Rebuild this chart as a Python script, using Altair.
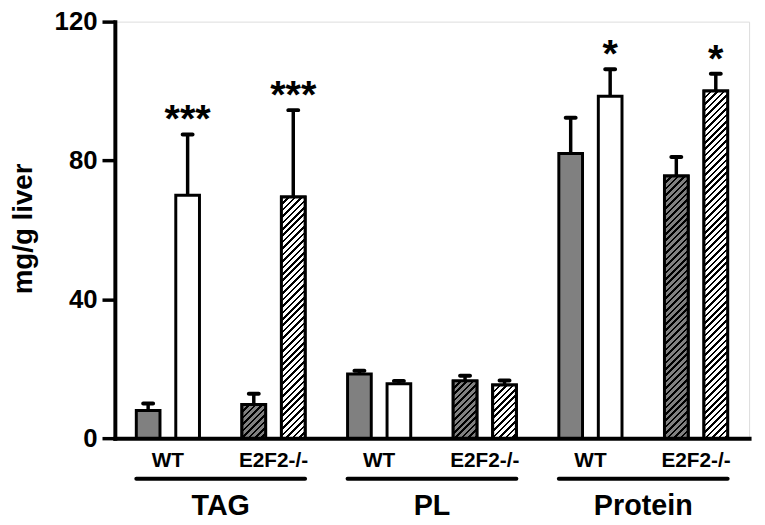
import altair as alt
import pandas as pd

# ---------------- data ----------------
groups = ["TAG", "PL", "Protein"]
genotypes = ["WT", "E2F2-/-"]
diets = ["Control", "HFD"]
means = [8.0, 70.0, 9.7, 69.5, 18.5, 15.7, 16.5, 15.3, 82.0, 98.5, 75.5, 100.0]
uppers = [10.0, 87.5, 12.8, 94.5, 19.4, 16.5, 18.0, 16.6, 92.3, 106.3, 81.0, 105.0]
stars = ["", "***", "", "***", "", "", "", "", "", "*", "", "*"]
y_ticks = [0, 40, 80, 120]

rows = []
i = 0
for g in groups:
    for gt in genotypes:
        for d in diets:
            rows.append(dict(group=g, genotype=gt, diet=d, pair=f"{g}|{gt}",
                             mean=means[i], upper=uppers[i], star=stars[i],
                             idx=i, hatched=(gt != "WT")))
            i += 1
df = pd.DataFrame(rows)
pairs = list(dict.fromkeys(df["pair"]))
under_df = pd.DataFrame({"group": groups,
                         "start": [f"{g}|{genotypes[0]}" for g in groups],
                         "end": [f"{g}|{genotypes[1]}" for g in groups]})

# ---------------- layout / style ----------------
W, H = 641, 421
PI, PO = 0.402, 0.203
OFF_PI = 0.4
step = W / (len(pairs) - PI + 2 * PO)
bw = step * (1 - PI)
off_step = bw / (2 - OFF_PI)
bar_w = off_step * (1 - OFF_PI)
FONT = "Liberation Sans"
GRAY = "#808080"

xscale = alt.Scale(domain=pairs, paddingInner=PI, paddingOuter=PO)
offscale = alt.Scale(domain=diets, paddingInner=OFF_PI, paddingOuter=0)
yscale = alt.Scale(domain=[0, 120], nice=False)

xaxis = alt.Axis(title=None, labelExpr="split(datum.label, '|')[1]", ticks=False,
                 labelAngle=0, labelFontSize=21, labelFontWeight="bold",
                 labelPadding=12, domainWidth=4, domainColor="black",
                 domainCap="square", labelColor="black", labelFont=FONT)
yaxis = alt.Axis(values=y_ticks, title="mg/g liver", grid=False, tickSize=13,
                 tickWidth=3.5, tickColor="black", domainWidth=4,
                 domainColor="black", domainCap="square", labelFontSize=26,
                 labelFontWeight="bold", labelPadding=5, labelColor="black",
                 labelFont=FONT, titleFont=FONT, titleFontSize=28,
                 titleFontWeight="bold", titleColor="black",
                 titleX=-78, titleY=209)

X = alt.X("pair:N", scale=xscale, axis=xaxis)
XO = alt.XOffset("diet:N", scale=offscale)


def hatch(bg, h, w, period=6.5, frac=0.4):
    s = (w + h) * w / (w * w + h * h)
    L = w + h
    stops = []
    k = 0
    while True:
        a = k * period / L
        b = a + frac * period / L
        if a >= 1:
            break
        b = min(b, 1.0)
        stops += [{"offset": a, "color": bg}, {"offset": a, "color": "black"},
                  {"offset": b, "color": "black"}, {"offset": b, "color": bg}]
        k += 1
    return {"gradient": "linear", "x1": 0, "y1": 0, "x2": s, "y2": s * h / w,
            "stops": stops}


base = alt.Chart(df)

err_line = base.mark_rule(strokeWidth=3.5, color="black").encode(
    x=X, xOffset=XO,
    y=alt.Y("mean:Q", scale=yscale, axis=yaxis), y2="upper:Q")

bars = base.mark_bar(stroke="black", strokeWidth=3).encode(
    x=X, xOffset=XO,
    y=alt.Y("mean:Q", scale=yscale, axis=yaxis),
    fill=alt.Fill("diet:N", scale=alt.Scale(domain=diets, range=[GRAY, "#ffffff"]),
                  legend=None))

hatch_layers = []
for r in rows:
    if not r["hatched"]:
        continue
    bg = GRAY if r["diet"] == diets[0] else "#ffffff"
    h = r["mean"] * H / 120.0
    hatch_layers.append(
        base.transform_filter(alt.datum.idx == r["idx"]).mark_bar(
            fill=hatch(bg, h, bar_w), stroke="black", strokeWidth=3).encode(
            x=X, xOffset=XO, y=alt.Y("mean:Q", scale=yscale, axis=yaxis)))

caps = base.mark_tick(size=14, thickness=4, cornerRadius=2, color="black",
                      opacity=1).encode(
    x=X, xOffset=XO, y=alt.Y("upper:Q", scale=yscale, axis=yaxis))

star_text = base.mark_text(fontSize=40, fontWeight="bold", baseline="alphabetic",
                           dy=-2, font=FONT, color="black").encode(
    x=X, xOffset=XO, y=alt.Y("upper:Q", scale=yscale, axis=yaxis), text="star:N")

under = alt.Chart(under_df).mark_rule(strokeWidth=4, strokeCap="round",
                                      color="black").encode(
    x=alt.X("start:N", scale=xscale, axis=xaxis, bandPosition=0),
    x2=alt.X2("end:N", bandPosition=1),
    y=alt.value(462))

group_text = alt.Chart(under_df).mark_text(fontSize=29, fontWeight="bold",
                                           baseline="middle", font=FONT,
                                           color="black", dx=step * PI / 2).encode(
    x=alt.X("start:N", scale=xscale, axis=xaxis, bandPosition=1),
    y=alt.value(490), text="group:N")

chart = alt.layer(err_line, bars, *hatch_layers, caps, star_text, under,
                  group_text).properties(
    width=W, height=H, autosize="none",
    padding={"left": 108, "top": 11, "right": 8, "bottom": 85}
).configure_view(stroke=None).configure(font=FONT)

chart.save("out.html", embed_options={"renderer": "svg", "actions": False})
